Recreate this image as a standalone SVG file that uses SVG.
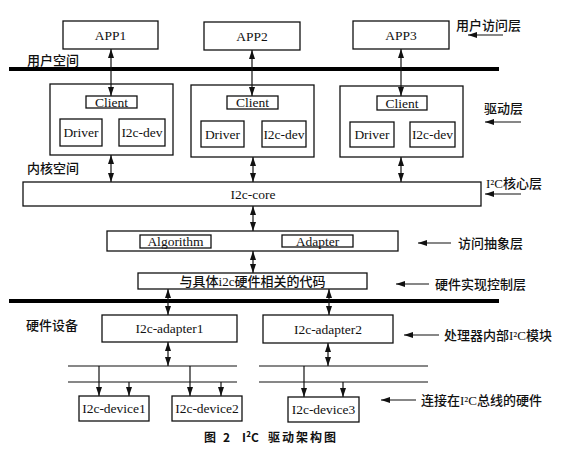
<svg xmlns="http://www.w3.org/2000/svg" width="562" height="450" viewBox="0 0 562 450">
<style>
.box{fill:#fff;stroke:#111;stroke-width:1.3}
.ln{stroke:#111;stroke-width:1.2;fill:none}
.thick{stroke:#000;stroke-width:4}
.bus{stroke:#111;stroke-width:1.2}
.t{font-family:"Liberation Serif","Times New Roman",serif;font-size:13.5px;fill:#111;text-anchor:middle}
.c{font-family:"Noto Sans CJK SC","Noto Sans",sans-serif;font-size:13px;fill:#111;font-weight:500}
.cap{font-family:"Noto Sans CJK SC","Noto Sans",sans-serif;font-size:12px;font-weight:bold;fill:#111}
.da{marker-start:url(#ah);marker-end:url(#ah)}
.sa{marker-end:url(#ah)}
</style>
<defs>
<marker id="ah" viewBox="0 0 9 6" refX="9" refY="3" markerWidth="9" markerHeight="6" markerUnits="userSpaceOnUse" orient="auto-start-reverse">
<path d="M0,0 L9,3 L0,6 Z" fill="#111"/>
</marker>
</defs>

<g id="lines">
<line class="thick" x1="9" y1="69" x2="499" y2="69"/>
<line class="thick" x1="9" y1="301" x2="499" y2="301"/>
<line class="bus" x1="68" y1="366" x2="237" y2="366"/>
<line class="bus" x1="68" y1="382" x2="237" y2="382"/>
<line class="bus" x1="259" y1="366" x2="428" y2="366"/>
<line class="bus" x1="259" y1="382" x2="428" y2="382"/>
</g>

<g id="app1"><rect class="box" x="63" y="21" width="95" height="28"/><text class="t" x="110.5" y="39.5">APP1</text></g>
<g id="app2"><rect class="box" x="204" y="22" width="96" height="28"/><text class="t" x="252" y="40.5">APP2</text></g>
<g id="app3"><rect class="box" x="353" y="21" width="96" height="28"/><text class="t" x="401" y="39.5">APP3</text></g>

<g id="drv1">
<rect class="box" x="50" y="84" width="123" height="71"/>
<rect class="box" x="86" y="96" width="51" height="12"/><text class="t" x="111.5" y="106.5">Client</text>
<rect class="box" x="60" y="119" width="42" height="27"/><text class="t" x="81" y="137">Driver</text>
<rect class="box" x="119" y="119" width="46" height="27"/><text class="t" x="142" y="137">I2c-dev</text>
</g>
<g id="drv2">
<rect class="box" x="191" y="85" width="123" height="72"/>
<rect class="box" x="227" y="96" width="51" height="13"/><text class="t" x="252.5" y="107">Client</text>
<rect class="box" x="201" y="121" width="43" height="26"/><text class="t" x="222.5" y="138.5">Driver</text>
<rect class="box" x="262" y="121" width="44" height="26"/><text class="t" x="284" y="138.5">I2c-dev</text>
</g>
<g id="drv3">
<rect class="box" x="340" y="86" width="123" height="71"/>
<rect class="box" x="377" y="96" width="50" height="14"/><text class="t" x="402" y="107.5">Client</text>
<rect class="box" x="350" y="122" width="44" height="25"/><text class="t" x="372" y="139">Driver</text>
<rect class="box" x="410" y="122" width="45" height="25"/><text class="t" x="432.5" y="139">I2c-dev</text>
</g>

<g id="core"><rect class="box" x="23" y="182" width="458" height="24"/><text class="t" x="253" y="198.5">I2c-core</text></g>

<g id="abstract">
<rect class="box" x="107" y="231" width="291" height="20"/>
<rect class="box" x="140" y="235" width="71" height="13"/><text class="t" x="175.5" y="246">Algorithm</text>
<rect class="box" x="282" y="235" width="71" height="12"/><text class="t" x="317.5" y="245.5">Adapter</text>
</g>

<g id="hwcode"><rect class="box" x="138" y="273" width="229" height="16"/><text class="c" x="252.5" y="286" text-anchor="middle">与具体<tspan font-family="Liberation Serif, serif">i2c</tspan>硬件相关的代码</text></g>

<g id="adapter1"><rect class="box" x="102" y="315" width="135" height="27"/><text class="t" x="169.5" y="333">I2c-adapter1</text></g>
<g id="adapter2"><rect class="box" x="263" y="315" width="130" height="28"/><text class="t" x="328" y="333.5">I2c-adapter2</text></g>

<g id="device1"><rect class="box" x="79" y="396" width="70" height="25"/><text class="t" x="114" y="413">I2c-device1</text></g>
<g id="device2"><rect class="box" x="172" y="396" width="70" height="25"/><text class="t" x="207" y="413">I2c-device2</text></g>
<g id="device3"><rect class="box" x="288" y="397" width="71" height="25"/><text class="t" x="323.5" y="414">I2c-device3</text></g>

<g id="connectors">
<line class="ln da" x1="111" y1="49" x2="111" y2="96"/>
<line class="ln da" x1="252" y1="50" x2="252" y2="96"/>
<line class="ln da" x1="401" y1="49" x2="401" y2="96"/>
<line class="ln da" x1="111" y1="155" x2="111" y2="182"/>
<line class="ln da" x1="253" y1="157" x2="253" y2="182"/>
<line class="ln da" x1="401" y1="157" x2="401" y2="182"/>
<line class="ln da" x1="253" y1="206" x2="253" y2="231"/>
<line class="ln da" x1="253" y1="251" x2="253" y2="273"/>
<line class="ln da" x1="168" y1="289" x2="168" y2="315"/>
<line class="ln da" x1="329" y1="289" x2="329" y2="315"/>
<line class="ln da" x1="168" y1="342" x2="168" y2="366"/>
<line class="ln da" x1="328" y1="343" x2="328" y2="366"/>
<line class="ln sa" x1="99" y1="366" x2="99" y2="396"/>
<line class="ln sa" x1="129" y1="382" x2="129" y2="396"/>
<line class="ln sa" x1="190" y1="366" x2="190" y2="396"/>
<line class="ln sa" x1="221" y1="382" x2="221" y2="396"/>
<line class="ln sa" x1="304" y1="366" x2="304" y2="397"/>
<line class="ln sa" x1="343" y1="382" x2="343" y2="397"/>
<line class="ln sa" x1="503" y1="35" x2="468" y2="35"/>
<line class="ln sa" x1="521" y1="122" x2="485" y2="122"/>
<line class="ln sa" x1="521" y1="194" x2="485" y2="194"/>
<line class="ln sa" x1="451" y1="243" x2="418" y2="243"/>
<line class="ln sa" x1="429" y1="284" x2="396" y2="284"/>
<line class="ln sa" x1="439" y1="335" x2="404" y2="335"/>
<line class="ln sa" x1="416" y1="400" x2="381" y2="400"/>
</g>

<g id="labels">
<text class="c" x="27" y="65">用户空间</text>
<text class="c" x="27" y="173">内核空间</text>
<text class="c" x="26" y="330">硬件设备</text>
<text class="c" x="456" y="30">用户访问层</text>
<text class="c" x="484" y="113">驱动层</text>
<text class="c" x="486" y="188"><tspan font-family="Liberation Serif, serif">I²C</tspan>核心层</text>
<text class="c" x="458" y="248">访问抽象层</text>
<text class="c" x="435" y="289">硬件实现控制层</text>
<text class="c" x="444" y="340">处理器内部<tspan font-family="Liberation Serif, serif">I²C</tspan>模块</text>
<text class="c" x="421" y="405">连接在<tspan font-family="Liberation Serif, serif">I²C</tspan>总线的硬件</text>
<text class="cap" x="204" y="442">图<tspan x="223">2</tspan><tspan x="242">I²C</tspan><tspan x="268" letter-spacing="2">驱动架构图</tspan></text>
</g>
</svg>
